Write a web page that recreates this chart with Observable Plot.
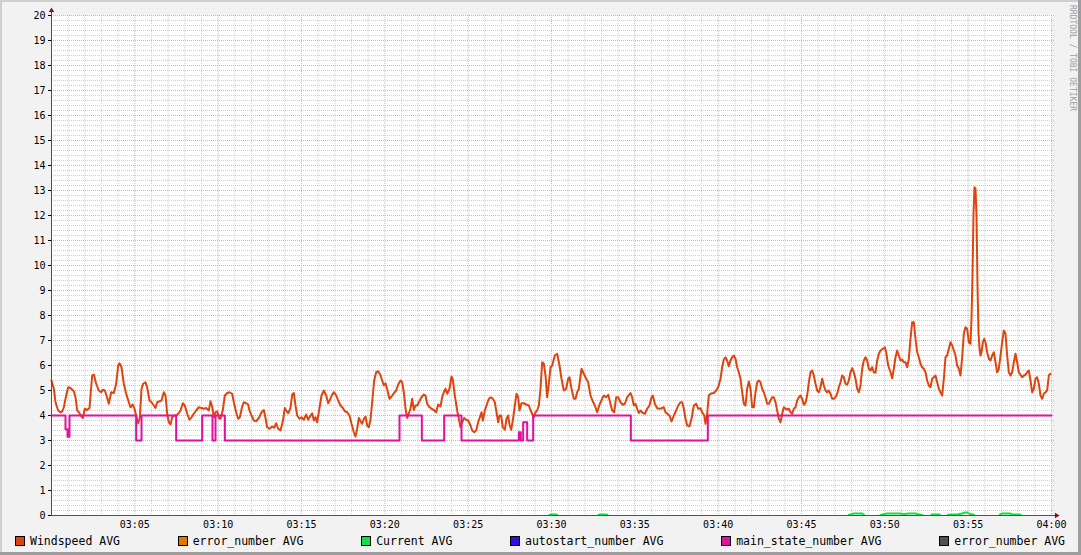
<!DOCTYPE html>
<html>
<head>
<meta charset="utf-8">
<script src="https://cdn.jsdelivr.net/npm/d3@7"></script>
<script src="https://cdn.jsdelivr.net/npm/@observablehq/plot@0.6"></script>
<style>
html, body { margin: 0; padding: 0; }
body { width: 1081px; height: 555px; background: #f2f2f2; position: relative; overflow: hidden; font-family: "DejaVu Sans Mono", monospace; }
#chart { position: absolute; left: 0; top: 0; }
.edge { position: absolute; }
#legend { position: absolute; left: 15px; right: 16px; top: 535px; display: flex; justify-content: space-between; font-size: 11.5px; line-height: 12px; color: #000; }
.item { display: flex; align-items: center; white-space: pre; }
.sw { width: 8px; height: 8px; border: 1px solid #000; margin-right: 5px; }
#credit { position: absolute; left: 1068px; top: 5px; writing-mode: vertical-rl; font-size: 8px; line-height: 8px; color: #a0a0a0; white-space: pre; }
</style>
</head>
<body>
<div id="chart"></div>
<div id="legend"></div>
<div id="credit">RRDTOOL / TOBI OETIKER</div>
<div class="edge" style="left:0;top:0;width:1081px;height:2px;background:#cfcfcf"></div>
<div class="edge" style="left:0;top:0;width:2px;height:555px;background:#cfcfcf"></div>
<div class="edge" style="right:0;top:0;width:3px;height:555px;background:#9e9e9e"></div>
<div class="edge" style="left:0;bottom:0;width:1081px;height:3px;background:#9e9e9e"></div>
<script>
// ---- axes ----
const xDomain = [0, 60]; // minutes after 03:00
const yDomain = [0, 20];
const xTicks = [5, 10, 15, 20, 25, 30, 35, 40, 45, 50, 55, 60];
const xTickLabels = ["03:05","03:10","03:15","03:20","03:25","03:30","03:35","03:40","03:45","03:50","03:55","04:00"];
const yTicks = [0,1,2,3,4,5,6,7,8,9,10,11,12,13,14,15,16,17,18,19,20];

// ---- Windspeed AVG (minute, value) ----
const windMinutes = [
0.00,0.14,0.24,0.40,0.54,0.64,0.74,0.88,1.00,1.14,
1.34,1.44,1.54,1.64,1.80,1.88,2.00,2.14,2.28,2.44,
2.54,2.68,2.84,2.98,3.08,3.20,3.30,3.44,3.58,3.74,
3.88,4.00,4.08,4.20,4.34,4.48,4.64,4.74,4.88,4.98,
5.08,5.20,5.30,5.40,5.50,5.64,5.74,5.88,6.00,6.14,
6.24,6.34,6.48,6.60,6.74,6.84,6.94,7.04,7.14,7.24,
7.36,7.50,7.60,7.74,7.88,8.00,8.14,8.28,8.40,8.54,
8.68,8.84,9.00,9.14,9.28,9.44,9.54,9.64,9.74,9.84,
9.94,10.04,10.14,10.28,10.40,10.54,10.68,10.84,10.94,11.08,
11.20,11.30,11.44,11.54,11.68,11.80,11.88,12.00,12.14,12.28,
12.44,12.60,12.74,12.84,12.94,13.08,13.24,13.36,13.48,13.60,
13.74,13.88,14.00,14.08,14.20,14.34,14.44,14.54,14.64,14.74,
14.88,15.00,15.14,15.28,15.40,15.54,15.64,15.74,15.84,15.94,
16.08,16.20,16.34,16.48,16.60,16.74,16.84,16.96,17.08,17.20,
17.34,17.48,17.60,17.74,17.88,18.00,18.14,18.24,18.34,18.44,
18.54,18.64,18.74,18.84,18.94,19.04,19.14,19.24,19.36,19.48,
19.60,19.72,19.84,19.94,20.04,20.16,20.28,20.40,20.54,20.68,
20.80,20.94,21.04,21.14,21.24,21.34,21.44,21.54,21.64,21.74,
21.84,21.94,22.04,22.20,22.34,22.44,22.54,22.64,22.80,22.94,
23.08,23.20,23.34,23.44,23.54,23.64,23.74,23.88,24.00,24.08,
24.20,24.34,24.44,24.54,24.64,24.76,24.88,25.00,25.14,25.24,
25.36,25.48,25.60,25.70,25.80,25.88,26.00,26.12,26.24,26.36,
26.48,26.60,26.70,26.80,26.88,26.98,27.08,27.20,27.30,27.40,
27.48,27.58,27.68,27.80,27.90,28.00,28.08,28.20,28.34,28.48,
28.64,28.74,28.84,28.94,29.04,29.14,29.24,29.34,29.44,29.54,
29.64,29.74,29.84,29.94,
30.04,30.20,30.34,30.48,30.60,30.74,30.88,31.00,31.08,31.20,
31.34,31.44,31.54,31.64,31.80,31.94,32.08,32.20,32.34,32.48,
32.60,32.74,32.88,33.04,33.14,33.28,33.40,33.54,33.64,33.76,
33.88,34.00,34.14,34.28,34.40,34.54,34.74,34.84,34.94,35.04,
35.14,35.24,35.34,35.48,35.60,35.74,35.88,36.00,36.08,36.20,
36.34,36.48,36.60,36.74,36.84,36.94,37.08,37.20,37.34,37.48,
37.60,37.74,37.84,37.94,38.04,38.14,38.28,38.40,38.54,38.68,
38.80,38.94,39.04,39.16,39.24,39.34,39.44,39.54,39.74,39.88,
40.00,40.14,40.24,40.34,40.44,40.54,40.64,40.74,40.84,40.94,
41.04,41.14,41.24,41.34,41.44,41.54,41.64,41.74,41.84,41.94,
42.04,42.14,42.24,42.34,42.44,42.54,42.64,42.74,42.84,42.94,
43.04,43.14,43.24,43.34,43.44,43.54,43.64,43.74,43.84,43.94,
44.04,44.14,44.24,44.34,44.44,44.54,44.64,44.74,44.84,44.94,
45.04,45.14,45.24,45.34,45.44,45.54,45.64,45.74,45.84,45.94,
46.04,46.14,46.24,46.34,46.44,46.54,46.64,46.74,46.84,46.94,
47.04,47.14,47.24,47.34,47.44,47.54,47.64,47.74,47.84,47.94,
48.04,48.14,48.24,48.34,48.44,48.54,48.64,48.74,48.84,48.94,
49.04,49.14,49.24,49.34,49.44,49.54,49.64,49.74,49.88,50.00,
50.08,50.20,50.34,50.44,50.54,50.64,50.74,50.84,50.94,51.04,
51.14,51.24,51.34,51.44,51.54,51.64,51.74,51.84,51.94,52.04,
52.14,52.24,52.34,52.44,52.54,52.64,52.74,52.84,52.94,53.04,
53.14,53.24,53.34,53.44,53.54,53.64,53.74,53.84,53.94,54.04,
54.14,54.24,54.34,54.44,54.54,54.64,54.74,54.84,54.94,55.04,
55.14,55.20,55.26,55.32,55.38,55.44,55.50,55.56,55.62,55.68,
55.74,55.80,55.88,55.96,56.04,56.14,56.24,56.34,56.44,56.54,
56.64,56.74,56.84,56.94,57.04,57.14,57.24,57.34,57.44,57.54,
57.64,57.74,57.84,57.94,58.04,58.14,58.24,58.34,58.44,58.54,
58.64,58.74,58.84,58.94,59.04,59.14,59.24,59.34,59.44,59.54,
59.64,59.74,59.84,59.94
];
const windValues = [
5.4,5.07,4.53,4.2,4.13,4.16,4.33,4.8,5.13,5.1,
4.97,4.73,4.2,4.13,3.96,3.9,4.27,4.22,4.3,5.6,
5.64,5.27,5.0,4.93,5.03,5.0,4.8,4.47,4.93,4.9,
5.27,6.0,6.09,5.93,5.27,4.87,4.53,4.33,4.44,4.27,
4.0,3.69,3.9,5.07,5.27,5.33,5.13,4.6,4.53,4.4,
4.3,4.53,4.57,4.6,4.93,4.8,4.07,3.73,3.64,3.93,
4.0,4.0,4.07,4.2,4.49,4.4,4.07,3.83,3.93,4.07,
4.2,4.33,4.3,4.27,4.3,4.2,4.57,4.36,3.93,4.13,
4.17,3.9,3.87,4.22,4.8,4.9,4.93,4.87,4.53,4.13,
3.87,3.93,4.36,4.53,4.49,4.44,4.2,4.0,3.8,3.77,
3.9,4.13,4.22,3.9,3.53,3.47,3.56,3.51,3.69,3.47,
3.4,3.77,4.3,4.2,4.09,4.3,4.84,4.9,4.4,4.0,
3.87,3.93,3.83,4.04,3.83,4.0,4.09,3.8,3.93,3.73,
4.3,4.8,5.0,4.8,4.49,4.67,4.84,4.93,4.8,4.6,
4.4,4.3,4.17,4.13,4.0,3.67,3.33,3.16,3.47,3.9,
3.77,3.67,3.87,3.96,3.6,3.53,3.83,4.53,5.4,5.73,
5.77,5.64,5.4,5.2,5.29,5.0,4.67,4.76,4.89,5.0,
5.24,5.4,5.33,4.93,4.27,3.9,4.09,4.27,4.67,4.22,
4.4,4.4,4.53,4.73,4.84,4.8,4.47,4.36,4.27,4.22,
4.13,4.44,4.36,4.73,4.93,5.07,4.87,5.07,5.56,5.43,
4.8,4.2,3.87,3.53,3.73,3.9,3.83,3.8,3.6,3.4,
3.33,3.4,3.73,3.93,4.13,3.8,4.2,4.44,4.67,4.73,
4.67,4.53,4.13,3.73,4.0,4.0,3.53,3.43,3.87,4.0,
3.64,3.43,3.8,4.4,4.87,4.73,4.2,4.49,4.49,4.44,
4.4,4.22,4.07,3.93,4.13,4.2,4.4,5.07,6.13,6.07,
5.6,4.73,5.27,5.93,
6.0,6.4,6.47,6.0,5.47,5.0,5.07,5.47,5.53,5.07,
4.67,4.67,4.93,5.07,5.87,5.67,5.47,5.33,4.8,4.56,
4.4,4.13,4.43,4.67,4.8,4.73,4.83,4.47,4.2,4.13,
4.73,4.73,4.53,4.43,4.47,4.73,4.9,4.73,4.4,4.47,
4.27,4.1,4.2,4.1,4.07,4.27,4.4,4.73,4.8,4.47,
4.29,4.27,4.29,4.33,4.13,4.07,4.0,3.76,4.0,4.2,
4.4,4.53,4.53,4.27,3.87,3.6,3.57,3.87,4.4,4.47,
4.27,4.29,4.13,4.0,3.67,4.07,4.8,4.87,4.9,5.0,
5.13,5.47,5.93,6.24,6.33,6.2,5.97,6.2,6.33,6.4,
6.27,5.93,5.73,5.47,4.93,4.47,4.4,5.07,5.36,5.07,
4.33,4.33,4.93,5.33,5.4,5.33,5.07,4.93,4.73,4.47,
4.47,4.6,4.73,4.73,4.53,4.2,3.87,3.73,4.07,4.33,
4.27,4.24,4.27,4.13,4.07,4.27,4.33,4.6,4.73,4.8,
4.67,4.43,4.51,4.8,5.33,5.73,5.8,5.6,5.27,5.0,
4.93,5.13,5.47,5.2,5.0,4.93,5.0,4.87,4.67,4.67,
4.73,4.87,5.13,5.33,5.6,5.53,5.27,5.23,5.4,5.73,
5.89,5.73,5.47,5.07,4.93,5.2,5.87,6.2,6.33,6.2,
5.87,5.8,5.93,5.73,5.71,6.2,6.47,6.6,6.67,6.73,
6.53,6.0,5.73,5.49,5.87,6.33,6.6,6.4,6.2,6.24,
6.13,6.13,5.93,6.27,7.07,7.73,7.73,7.07,6.53,6.33,
6.07,5.93,5.87,5.73,5.4,5.2,5.13,5.47,5.53,5.6,
5.33,5.07,4.93,4.8,5.47,6.33,6.4,6.67,6.93,6.8,
6.6,6.4,6.0,5.87,5.6,6.33,7.27,7.53,7.47,6.93,
6.87,7.87,9.6,12.07,13.13,13.07,12.0,9.2,7.33,6.67,
6.4,6.53,6.93,7.07,6.93,6.53,6.27,6.2,6.4,6.53,
6.13,5.73,5.87,6.4,6.93,7.4,7.27,6.4,5.73,5.6,
5.73,6.13,6.47,6.13,5.73,5.63,5.53,5.6,5.63,5.73,
5.8,5.4,4.93,5.07,5.47,5.53,5.27,4.8,4.67,4.87,
4.93,5.0,5.6,5.67
];

// ---- Current AVG (null = no line) ----
const currentMinutes = [29.88,29.96,30.26,30.34,30.5, 32.82,32.9,33.28,33.36,33.5, 47.84,48.14,48.64,48.74,49.0, 49.74,50.14,50.94,51.1,51.44,51.84,52.0,52.24,52.5, 52.8,53.3,53.5, 53.78,54.4,54.64,54.8,54.94,55.1,55.34,55.6, 56.9,57.04,57.5,57.6,58.14];
const currentValues  = [0.02,0.04,0.04,0.02,null, 0.02,0.04,0.04,0.02,null, 0.02,0.08,0.08,0.02,null, 0.02,0.08,0.08,0.05,0.08,0.08,0.05,0.02,null, 0.04,0.04,null, 0.03,0.05,0.08,0.12,0.12,0.06,0.03,null, 0.03,0.08,0.08,0.05,0.03];

// ---- main_state_number AVG (step changes) ----
const stateMinutes = [0, 0.84, 0.96, 1.08, 5.08, 5.40, 7.48, 9.04, 9.66, 9.84, 10.40, 20.88, 22.22, 23.56, 24.60, 28.04, 28.16, 28.30, 28.54, 28.90, 34.76, 39.38, 60];
const stateValues  = [4, 3.45, 3.15, 4, 3, 4, 3, 4, 3, 4, 3, 4, 3, 4, 3, 3.33, 3, 3.73, 3, 4, 3, 4, 4];

// ---- legend ----
const legendLabels = ["Windspeed AVG", "error_number AVG", "Current AVG", "autostart_number AVG", "main_state_number AVG", "error_number AVG"];
const legendColors = ["#e0440e", "#e07800", "#10e040", "#3010e0", "#e010a0", "#505050"];

const wind = windMinutes.map((m, i) => ({m, v: windValues[i]}));
const current = currentMinutes.map((m, i) => ({m, v: currentValues[i]}));
const state = stateMinutes.map((m, i) => ({m, v: stateValues[i]}));

const minorY = d3.range(yDomain[0] * 5, yDomain[1] * 5 + 1).map(k => k / 5).filter(v => !Number.isInteger(v));
const majorY = yTicks.filter(v => v > yDomain[0]);
const minorX = d3.range(xDomain[0] + 1, xDomain[1] + 1).filter(v => v % 5 !== 0);
const majorX = xTicks;

const axisColor = "#505050";
const chart = Plot.plot({
  width: 1081,
  height: 530,
  marginLeft: 51,
  marginRight: 30,
  marginTop: 15,
  marginBottom: 15,
  style: {background: "transparent", fontFamily: "'DejaVu Sans Mono', monospace", fontSize: "10px", color: "#000"},
  x: {domain: xDomain, ticks: xTicks, tickFormat: (d, i) => xTickLabels[i], tickSize: 0, tickPadding: 5, label: null},
  y: {domain: yDomain, ticks: yTicks, tickFormat: d => String(d), tickSize: 3, tickPadding: 3, label: null},
  marks: [
    Plot.frame({fill: "white", stroke: "none"}),
    Plot.ruleY(minorY, {stroke: "#cfcfcf", strokeDasharray: "1,1", insetRight: -3}),
    Plot.ruleX(minorX, {stroke: "#cfcfcf", strokeDasharray: "1,1"}),
    Plot.ruleY(majorY, {stroke: "#f0a8a8", strokeDasharray: "1,1", insetRight: -3}),
    Plot.ruleX(majorX, {stroke: "#f0a8a8", strokeDasharray: "1,1"}),
    Plot.line(wind, {x: "m", y: "v", stroke: legendColors[0], strokeWidth: 2, curve: "linear"}),
    Plot.line(current, {x: "m", y: "v", stroke: legendColors[2], strokeWidth: 2, curve: "linear"}),
    Plot.line(state, {x: "m", y: "v", stroke: legendColors[4], strokeWidth: 2, curve: "step-after"}),
    Plot.ruleY([yDomain[0]], {stroke: axisColor, insetRight: -4}),
    Plot.ruleX([xDomain[0]], {stroke: axisColor, insetTop: -5}),
    Plot.dot([yDomain[1]], {x: () => xDomain[0], y: d => d, symbol: "triangle", r: 2, fill: "#8b1010", stroke: "none", dy: -5}),
    Plot.dot([xDomain[1]], {x: d => d, y: () => yDomain[0], symbol: "triangle", r: 2, fill: "#8b1010", stroke: "none", rotate: 90, dx: 5})
  ]
});
document.getElementById("chart").appendChild(chart);

const legend = document.getElementById("legend");
legendLabels.forEach((label, i) => {
  const item = document.createElement("div");
  item.className = "item";
  const sw = document.createElement("div");
  sw.className = "sw";
  sw.style.background = legendColors[i];
  const t = document.createElement("span");
  t.textContent = label;
  item.appendChild(sw);
  item.appendChild(t);
  legend.appendChild(item);
});
</script>
</body>
</html>
